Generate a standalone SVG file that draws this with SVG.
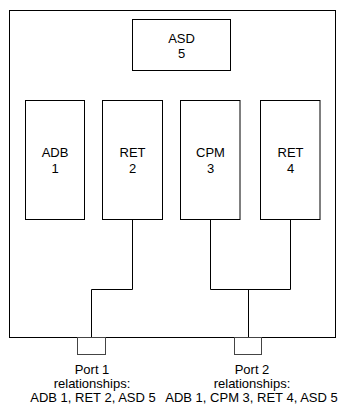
<svg xmlns="http://www.w3.org/2000/svg" width="339" height="406" viewBox="0 0 339 406">
<style>
.box{fill:#fff;stroke:#000;stroke-width:1}
.ln{fill:none;stroke:#000;stroke-width:1}
.port{fill:#fff;stroke:#444;stroke-width:1}
text{font-family:"Liberation Sans",Arial,sans-serif;font-size:13px;fill:#000;text-anchor:middle}
</style>
<rect width="339" height="406" fill="#fff"/>
<g id="outer"><rect class="box" x="9.5" y="10.5" width="326" height="327"/></g>
<g id="connectors">
<path class="ln" d="M132.5 219.5V289.5H91.5V337.5"/>
<path class="ln" d="M210.5 219.5V289.5H290.5V219.5"/>
<path class="ln" d="M248.5 289.5V337.5"/>
</g>
<g id="asd5"><rect class="box" x="132.5" y="19.5" width="98" height="51"/><text x="181.5" y="43">ASD</text><text x="181.5" y="57.5">5</text></g>
<g id="adb1"><rect class="box" x="25.5" y="100.5" width="59" height="119"/><text x="55" y="157">ADB</text><text x="55" y="173">1</text></g>
<g id="ret2"><rect class="box" x="102.5" y="100.5" width="60" height="119"/><text x="132.5" y="157">RET</text><text x="132.5" y="173">2</text></g>
<g id="cpm3"><rect class="box" x="180.5" y="100.5" width="59.5" height="119"/><text x="210.5" y="157">CPM</text><text x="210.5" y="173">3</text></g>
<g id="ret4"><rect class="box" x="260.5" y="100.5" width="59.5" height="119"/><text x="290.5" y="157">RET</text><text x="290.5" y="173">4</text></g>
<g id="port1"><rect class="port" x="77.5" y="337.5" width="28" height="17"/><text x="92" y="373.5">Port 1</text><text x="92" y="387.5">relationships:</text><text x="93" y="401.5">ADB 1, RET 2, ASD 5</text></g>
<g id="port2"><rect class="port" x="234.5" y="337.5" width="27" height="17"/><text x="252" y="373.5">Port 2</text><text x="252" y="387.5">relationships:</text><text x="251.5" y="401.5">ADB 1, CPM 3, RET 4, ASD 5</text></g>
</svg>
